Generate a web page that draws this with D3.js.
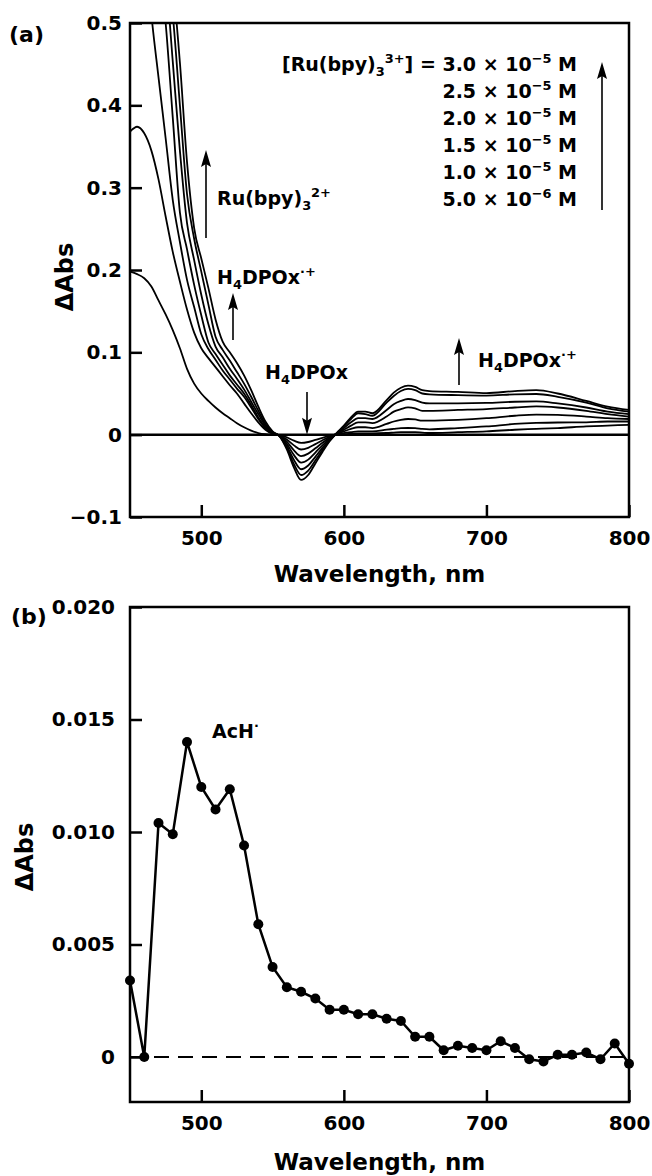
<!DOCTYPE html>
<html>
<head>
<meta charset="utf-8">
<script src="https://cdn.jsdelivr.net/npm/d3@7/dist/d3.min.js"></script>
<style>
  body { margin: 0; background: #fff; }
  text { font-family: "DejaVu Sans", sans-serif; font-weight: bold; fill: #000; }
</style>
</head>
<body>
<svg id="chart" width="652" height="1176"></svg>
<script>
// (a) 差吸收光谱，7 条曲线共用一组波长
const wlA = [450,455,460,465,470,475,480,485,490,495,500,505,510,515,520,525,530,535,540,545,550,
  555,560,565,570,575,580,585,590,595,
  600,605,610,615,620,630,635,640,645,650,655,660,680,700,720,735,750,770,785,800];

const absA1 = [0.198,0.195,0.190,0.180,0.163,0.146,0.127,0.105,0.080,0.062,0.050,0.041,0.033,0.026,0.020,0.014,0.009,0.005,0.002,0.0005,0.0,
  -0.0004,-0.0033,-0.0073,-0.010,-0.0089,-0.0064,-0.0038,-0.0015,0.0004,
  0.0005,0.001,0.0015,0.0015,0.0015,0.002,0.0025,0.003,0.003,0.003,0.0025,0.002,0.003,0.004,0.006,0.007,0.008,0.010,0.011,0.012];
const absA2 = [0.368,0.374,0.366,0.345,0.310,0.265,0.222,0.186,0.152,0.124,0.105,0.093,0.082,0.071,0.060,0.050,0.038,0.026,0.015,0.006,0.001,
  -0.0007,-0.006,-0.013,-0.018,-0.016,-0.0115,-0.0068,-0.0027,0.0007,
  0.002,0.003,0.004,0.004,0.004,0.006,0.007,0.008,0.0081,0.008,0.007,0.0065,0.008,0.010,0.013,0.0142,0.0148,0.015,0.016,0.016];
const absA3 = [0.80,0.70,0.61,0.51,0.434,0.36,0.285,0.234,0.188,0.155,0.122,0.104,0.091,0.078,0.067,0.056,0.046,0.033,0.019,0.008,0.002,
  -0.001,-0.0086,-0.019,-0.026,-0.023,-0.0166,-0.0099,-0.0039,0.001,
  0.004,0.007,0.009,0.009,0.008,0.013,0.016,0.018,0.019,0.0185,0.017,0.017,0.018,0.020,0.023,0.0243,0.024,0.022,0.020,0.019];
const absA4 = [0.88,0.80,0.72,0.65,0.58,0.50,0.385,0.27,0.225,0.182,0.145,0.112,0.098,0.085,0.072,0.061,0.050,0.036,0.021,0.009,0.002,
  -0.0014,-0.0112,-0.0248,-0.034,-0.0303,-0.0218,-0.0129,-0.0051,0.0014,
  0.006,0.011,0.015,0.015,0.014,0.022,0.028,0.031,0.0331,0.032,0.029,0.029,0.030,0.031,0.033,0.0343,0.033,0.029,0.025,0.022];
const absA5 = [0.92,0.84,0.76,0.69,0.62,0.56,0.453,0.345,0.257,0.212,0.170,0.134,0.107,0.094,0.080,0.068,0.055,0.040,0.025,0.011,0.003,
  -0.0017,-0.0139,-0.0307,-0.042,-0.0374,-0.0269,-0.016,-0.0063,0.0017,
  0.008,0.015,0.020,0.020,0.019,0.030,0.037,0.041,0.0433,0.042,0.039,0.038,0.038,0.0385,0.040,0.0404,0.038,0.033,0.028,0.025];
const absA6 = [0.95,0.87,0.79,0.72,0.65,0.58,0.51,0.40,0.292,0.238,0.198,0.158,0.119,0.103,0.090,0.076,0.062,0.046,0.029,0.013,0.003,
  -0.002,-0.0162,-0.0358,-0.049,-0.0436,-0.0314,-0.0186,-0.0074,0.002,
  0.010,0.019,0.026,0.025,0.023,0.039,0.047,0.053,0.0555,0.054,0.050,0.049,0.048,0.0475,0.049,0.0494,0.046,0.039,0.032,0.028];
const absA7 = [1.0,0.92,0.84,0.76,0.68,0.62,0.55,0.452,0.331,0.251,0.214,0.178,0.140,0.113,0.100,0.087,0.072,0.054,0.034,0.016,0.004,
  -0.0022,-0.018,-0.040,-0.055,-0.049,-0.035,-0.021,-0.008,0.002,
  0.011,0.021,0.028,0.028,0.026,0.042,0.051,0.057,0.0595,0.058,0.054,0.053,0.052,0.0505,0.053,0.054,0.050,0.041,0.034,0.030];

const yTicksA = [-0.1, 0, 0.1, 0.2, 0.3, 0.4, 0.5];
const xTicks = [500, 600, 700, 800];

// 图例浓度
const legendConc = [["3.0", "5"], ["2.5", "5"], ["2.0", "5"], ["1.5", "5"], ["1.0", "5"], ["5.0", "6"]];

// (b) AcH· 瞬态吸收
const wlB = [450,460,470,480,490,500,510,520,530,540,550,560,570,580,590,600,610,620,630,640,
  650,660,670,680,690,700,710,720,730,740,750,760,770,780,790,800];
const absB = [0.0034,0.0000,0.0104,0.0099,0.0140,0.0120,0.0110,0.0119,0.0094,0.0059,0.0040,0.0031,0.0029,0.0026,0.0021,0.0021,0.0019,0.0019,0.0017,0.0016,
  0.0009,0.0009,0.0003,0.0005,0.0004,0.0003,0.0007,0.0004,-0.0001,-0.0002,0.0001,0.0001,0.0002,-0.0001,0.0006,-0.0003];
const yTicksB = [0, 0.005, 0.010, 0.015, 0.020];

const svg = d3.select("#chart");
const left = 130, right = 629;

// 带上下标的文字
function richText(g, x, y, parts, size, anchor) {
  const t = g.append("text").attr("x", x).attr("y", y)
    .attr("font-size", size).attr("text-anchor", anchor || "start");
  let shift = 0;
  parts.forEach(p => {
    const target = p.sub ? 5 : p.sup ? -8 : 0;
    const ts = t.append("tspan").text(p.t).attr("dy", target - shift);
    if (p.sub || p.sup) ts.attr("font-size", size * 0.68);
    shift = target;
  });
  return t;
}

function arrow(g, x, y1, y2) {
  // y1 尾部, y2 箭头尖
  const dir = y2 < y1 ? 1 : -1;
  g.append("line").attr("x1", x).attr("x2", x).attr("y1", y1).attr("y2", y2 + dir * 12)
    .attr("stroke", "#000").attr("stroke-width", 1.6);
  g.append("path")
    .attr("d", `M${x},${y2} L${x - 5},${y2 + dir * 17} L${x},${y2 + dir * 14} L${x + 5},${y2 + dir * 17} Z`)
    .attr("fill", "#000");
}

function frameAndAxes(g, x, y, yTicks, fmt, top, bottom, pad) {
  g.append("g").attr("transform", `translate(0,${bottom})`)
    .call(d3.axisBottom(x).tickValues(xTicks).tickSize(-12).tickSizeOuter(0).tickPadding(14))
    .call(a => a.select(".domain").remove())
    .call(a => a.selectAll("line").attr("stroke-width", 2.5))
    .call(a => a.selectAll("text").attr("font-size", 20).attr("font-family", null));
  g.append("g").attr("transform", `translate(${left},0)`)
    .call(d3.axisLeft(y).tickValues(yTicks).tickFormat(fmt).tickSize(-12).tickSizeOuter(0).tickPadding(pad))
    .call(a => a.select(".domain").remove())
    .call(a => a.selectAll("line").attr("stroke-width", 2.5))
    .call(a => a.selectAll("text").attr("font-size", 20).attr("font-family", null));
  g.append("rect").attr("x", left).attr("y", top)
    .attr("width", right - left).attr("height", bottom - top)
    .attr("fill", "none").attr("stroke", "#000").attr("stroke-width", 2.5);
}

// ---------- (a) ----------
const topA = 23, botA = 517;
const xA = d3.scaleLinear().domain([450, 800]).range([left, right]);
const yA = d3.scaleLinear().domain([-0.1, 0.5]).range([botA, topA]);
const gA = svg.append("g");

svg.append("clipPath").attr("id", "clipA").append("rect")
  .attr("x", left).attr("y", topA).attr("width", right - left).attr("height", botA - topA);

const seriesA = [absA1, absA2, absA3, absA4, absA5, absA6, absA7];
const lineA = d3.line().x((d, i) => xA(wlA[i])).y(d => yA(d)).curve(d3.curveMonotoneX);
gA.append("g").attr("clip-path", "url(#clipA)")
  .selectAll("path").data(seriesA).join("path")
  .attr("d", lineA).attr("fill", "none").attr("stroke", "#000").attr("stroke-width", 1.8);

gA.append("line").attr("x1", left).attr("x2", right).attr("y1", yA(0)).attr("y2", yA(0))
  .attr("stroke", "#000").attr("stroke-width", 2.5);

frameAndAxes(gA, xA, yA, yTicksA, d => d === 0 ? "0" : d3.format(".1f")(d), topA, botA, 8);

gA.append("text").attr("x", 9).attr("y", 42).attr("font-size", 22).text("(a)");
gA.append("text").attr("transform", `translate(73,277) rotate(-90)`)
  .attr("text-anchor", "middle").attr("font-size", 24).text("ΔAbs");
gA.append("text").attr("x", (left + right) / 2).attr("y", 582)
  .attr("text-anchor", "middle").attr("font-size", 23).text("Wavelength, nm");

// 图例
legendConc.forEach((c, i) => {
  const parts = i === 0
    ? [{t: "[Ru(bpy)"}, {t: "3", sub: true}, {t: "3+", sup: true}, {t: "] = " + c[0] + " × 10"}, {t: "−" + c[1], sup: true}, {t: " M"}]
    : [{t: c[0] + " × 10"}, {t: "−" + c[1], sup: true}, {t: " M"}];
  richText(gA, 577, 71 + i * 27, parts, 19, "end");
});
arrow(gA, 602, 210, 62);

// 标注
richText(gA, 217, 205, [{t: "Ru(bpy)"}, {t: "3", sub: true}, {t: "2+", sup: true}], 19);
arrow(gA, 206, 238, 150);
richText(gA, 217, 284, [{t: "H"}, {t: "4", sub: true}, {t: "DPOx"}, {t: "·+", sup: true}], 19);
arrow(gA, 233, 340, 293);
richText(gA, 265, 379, [{t: "H"}, {t: "4", sub: true}, {t: "DPOx"}], 19);
arrow(gA, 307, 392, yA(0));
richText(gA, 478, 367, [{t: "H"}, {t: "4", sub: true}, {t: "DPOx"}, {t: "·+", sup: true}], 19);
arrow(gA, 459, 385, 338);

// ---------- (b) ----------
const topB = 607, botB = 1102;
const xB = d3.scaleLinear().domain([450, 800]).range([left, right]);
const yB = d3.scaleLinear().domain([-0.002, 0.020]).range([botB, topB]);
const gB = svg.append("g");

gB.append("line").attr("x1", left).attr("x2", right).attr("y1", yB(0)).attr("y2", yB(0))
  .attr("stroke", "#000").attr("stroke-width", 2).attr("stroke-dasharray", "15,9");

const lineB = d3.line().x((d, i) => xB(wlB[i])).y(d => yB(d));
gB.append("path").datum(absB).attr("d", lineB)
  .attr("fill", "none").attr("stroke", "#000").attr("stroke-width", 2.5);
gB.append("g").selectAll("circle").data(absB).join("circle")
  .attr("cx", (d, i) => xB(wlB[i])).attr("cy", d => yB(d)).attr("r", 5).attr("fill", "#000");

frameAndAxes(gB, xB, yB, yTicksB, d => d === 0 ? "0" : d3.format(".3f")(d), topB, botB, 15);

gB.append("text").attr("x", 11).attr("y", 624).attr("font-size", 22).text("(b)");
gB.append("text").attr("transform", `translate(33,857) rotate(-90)`)
  .attr("text-anchor", "middle").attr("font-size", 24).text("ΔAbs");
gB.append("text").attr("x", (left + right) / 2).attr("y", 1170)
  .attr("text-anchor", "middle").attr("font-size", 23).text("Wavelength, nm");
richText(gB, 212, 738, [{t: "AcH"}, {t: "·", sup: true}], 19);
</script>
</body>
</html>
